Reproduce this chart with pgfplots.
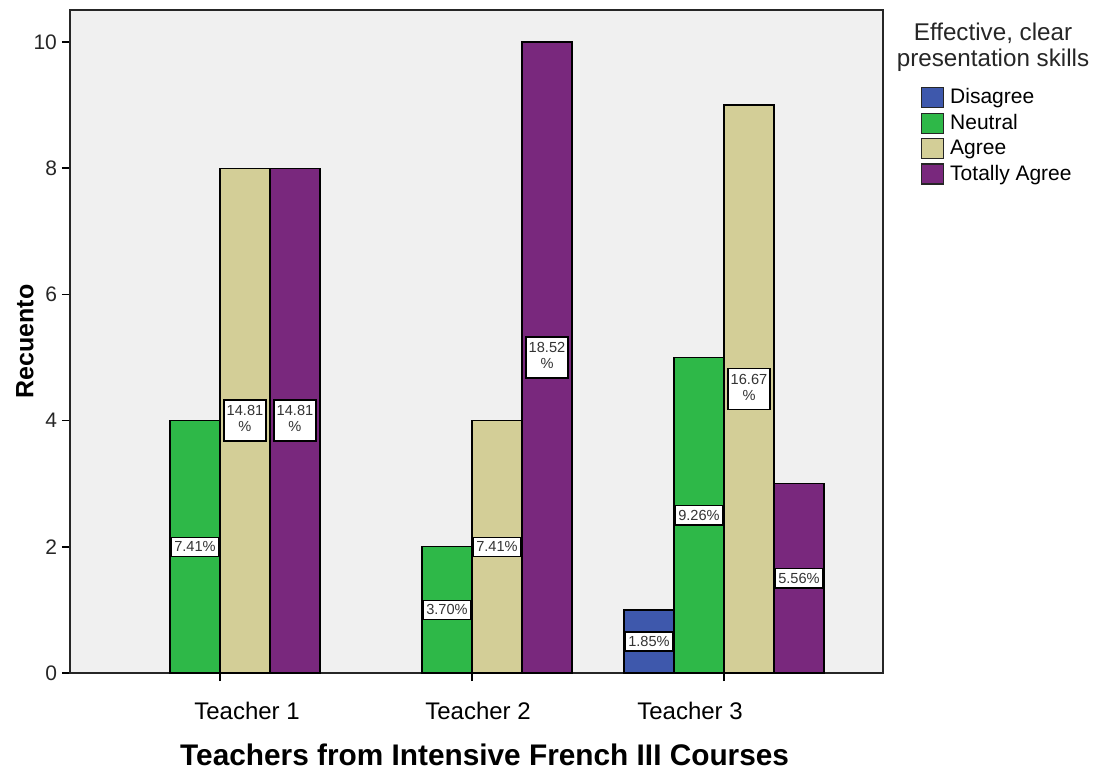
\documentclass[border=0pt]{standalone}
\usepackage{fontspec}
\setmainfont{Liberation Sans}
\usepackage{pgfplots}
\pgfplotsset{compat=1.18}
\definecolor{cDis}{HTML}{3E58AC}
\definecolor{cNeu}{HTML}{2EB848}
\definecolor{cAgr}{HTML}{D3CE97}
\definecolor{cTot}{HTML}{79287D}
\definecolor{bgc}{HTML}{F0F0F0}
\newcommand\tw[1]{\renewcommand\arraystretch{0.95}\begin{tabular}{@{}c@{}}#1\\\%\end{tabular}}
\begin{document}
\begin{tikzpicture}
\useasboundingbox (-35pt,-49.5pt) rectangle (513.5pt,336.5pt);
\begin{axis}[
  at={(0,0)}, anchor=south west,
  scale only axis, width=406.5pt, height=331.5pt,
  xmin=-0.5952, xmax=2.631, ymin=0, ymax=10.507,
  clip=false,
  axis background/.style={fill=bgc},
  axis line style={line width=0.8pt, draw=black!85},
  xtick={0,1,2},
  xticklabels={\hspace*{27pt}Teacher 1,\hspace*{6pt}Teacher 2,Teacher 3\hspace*{34pt}},
  ytick={0,2,4,6,8,10},
  tick align=outside, major tick length=4pt,
  tick style={line width=0.7pt, black},
  xtick pos=bottom, ytick pos=left,
  /pgf/number format/assume math mode=true,
  x tick label style={font=\fontsize{12}{14}\selectfont, yshift=-7pt},
  y tick label style={font=\fontsize{10.5}{12}\selectfont, text=black!85, xshift=1pt},
  xlabel={Teachers from Intensive French III Courses},
  ylabel={Recuento},
  xlabel style={font=\bfseries\fontsize{14.9}{16}\selectfont, at={(axis description cs:0.510,-0.1237)}, anchor=center},
  ylabel style={font=\bfseries\fontsize{12.5}{14}\selectfont, at={(axis description cs:-0.0554,0.5)}, anchor=center, rotate=0},
  nodes near coords,
  point meta=explicit symbolic,
  visualization depends on={y/2 \as \halfy},
  nodes near coords style={anchor=center, shift={(axis direction cs:0,-\halfy)},
     draw=black, fill=white, font=\fontsize{7.3}{8.5}\selectfont, text=black!80,
     inner xsep=1.3pt, inner ysep=2.2pt, line width=0.7pt},
  legend style={at={(axis description cs:1.046,0.8855)}, anchor=north west,
     draw=none, fill=none, font=\fontsize{10.5}{12}\selectfont,
     row sep=1.8pt, inner sep=0pt,
     nodes={inner sep=1pt, anchor=west}},
  legend cell align=left,
  legend image code/.code={\draw[#1, line width=0.7pt, draw=black!85] (0pt,-5pt) rectangle (11pt,5pt);},
  /tikz/every even column/.append style={column sep=0pt},
]
\addplot[ybar, bar width=0.1984, bar shift=-0.2976, fill=cDis, draw=black, line width=0.6pt,
  nodes near coords style={shift={(axis direction cs:-0.2976,0)}}]
  coordinates {(2,1) [1.85\%]};
\addlegendentry{\hspace*{2pt}Disagree}
\addplot[ybar, bar width=0.1984, bar shift=-0.0992, fill=cNeu, draw=black, line width=0.6pt,
  nodes near coords style={shift={(axis direction cs:-0.0992,0)}}]
  coordinates {(0,4) [7.41\%] (1,2) [3.70\%] (2,5) [9.26\%]};
\addlegendentry{\hspace*{2pt}Neutral}
\addplot[ybar, bar width=0.1984, bar shift=0.0992, fill=cAgr, draw=black, line width=0.6pt,
  nodes near coords style={shift={(axis direction cs:0.0992,0)}}]
  coordinates {(0,8) [\tw{14.81}] (1,4) [7.41\%] (2,9) [\tw{16.67}]};
\addlegendentry{\hspace*{2pt}Agree}
\addplot[ybar, bar width=0.1984, bar shift=0.2976, fill=cTot, draw=black, line width=0.6pt,
  nodes near coords style={shift={(axis direction cs:0.2976,0)}}]
  coordinates {(0,8) [\tw{14.81}] (1,10) [\tw{18.52}] (2,3) [5.56\%]};
\addlegendentry{\hspace*{2pt}Totally Agree}
\node[align=center, font=\fontsize{12.1}{12.8}\selectfont, text=black!85]
  at (axis description cs:1.1353,0.9434) {Effective, clear\\presentation skills};
\end{axis}
\end{tikzpicture}
\end{document}
